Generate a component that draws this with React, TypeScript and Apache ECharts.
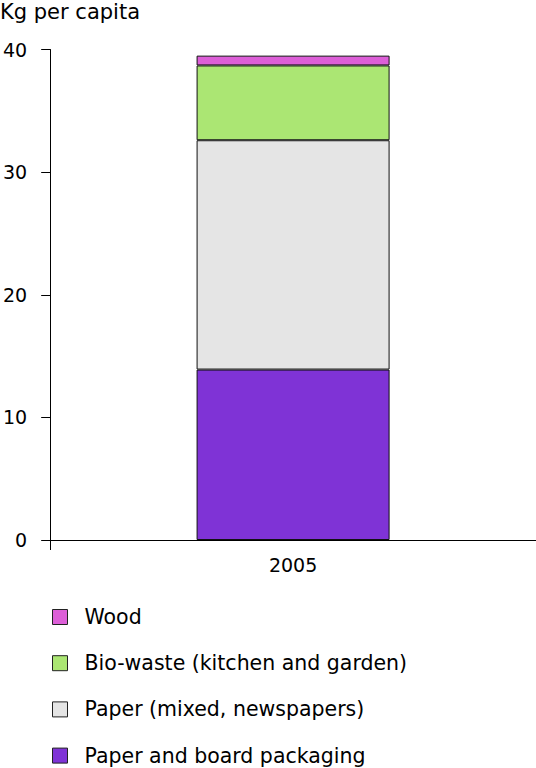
import React, { useEffect, useRef } from "react";
import * as echarts from "echarts";

const categories = ["2005"];
const packaging = [13.9];
const paperMixed = [18.7];
const bioWaste = [6.1];
const wood = [0.8];
const yTicks = [0, 10, 20, 30, 40];
const legendOrder = ["Wood", "Bio-waste (kitchen and garden)", "Paper (mixed, newspapers)", "Paper and board packaging"];

const FONT = "DejaVu Sans";

export default function App() {
  const ref = useRef<HTMLDivElement>(null);
  useEffect(() => {
    if (!ref.current) return;
    const chart = echarts.init(ref.current, null, { renderer: "svg" });
    const border = { borderColor: "#111", borderWidth: 1 };
    chart.setOption({
      animation: false,
      textStyle: { fontFamily: FONT },
      title: {
        text: "Kg per capita",
        left: -5,
        top: -4,
        textStyle: { fontFamily: FONT, fontSize: 21, fontWeight: "normal", color: "#000" },
      },
      grid: { left: 49, right: 0, top: 49.5, bottom: 228 },
      legend: {
        orient: "vertical",
        left: 47,
        top: 601.5,
        height: 180,
        icon: "rect",
        itemWidth: 15,
        itemHeight: 15,
        itemGap: 25.2,
        itemStyle: { borderColor: "#222", borderWidth: 1 },
        textStyle: { fontFamily: FONT, fontSize: 20.5, lineHeight: 15, color: "#000", padding: [0, 0, 0, 12] },
        data: legendOrder,
      },
      xAxis: {
        type: "category",
        data: categories,
        axisLine: { lineStyle: { color: "#000", width: 1 } },
        axisTick: { show: true, length: 10, lineStyle: { color: "#000" } },
        axisLabel: { color: "#000", fontSize: 19, margin: 15, fontFamily: FONT },
      },
      yAxis: {
        type: "value",
        min: yTicks[0],
        max: yTicks[yTicks.length - 1],
        interval: 10,
        splitLine: { show: false },
        axisLine: { show: true, lineStyle: { color: "#000", width: 1 } },
        axisTick: { show: true, length: 9, lineStyle: { color: "#000" } },
        axisLabel: { color: "#000", fontSize: 19, margin: 23, fontFamily: FONT },
      },
      series: [
        { name: "Paper and board packaging", type: "bar", stack: "a", barWidth: 193, data: packaging, itemStyle: { color: "#7f33d6", ...border } },
        { name: "Paper (mixed, newspapers)", type: "bar", stack: "a", data: paperMixed, itemStyle: { color: "#e5e5e5", ...border } },
        { name: "Bio-waste (kitchen and garden)", type: "bar", stack: "a", data: bioWaste, itemStyle: { color: "#abe673", ...border } },
        { name: "Wood", type: "bar", stack: "a", data: wood, itemStyle: { color: "#dd5fd8", ...border } },
      ],
    });
    return () => chart.dispose();
  }, []);
  return <div ref={ref} style={{ width: 536, height: 768, position: "absolute", left: 0, top: 0 }} />;
}
